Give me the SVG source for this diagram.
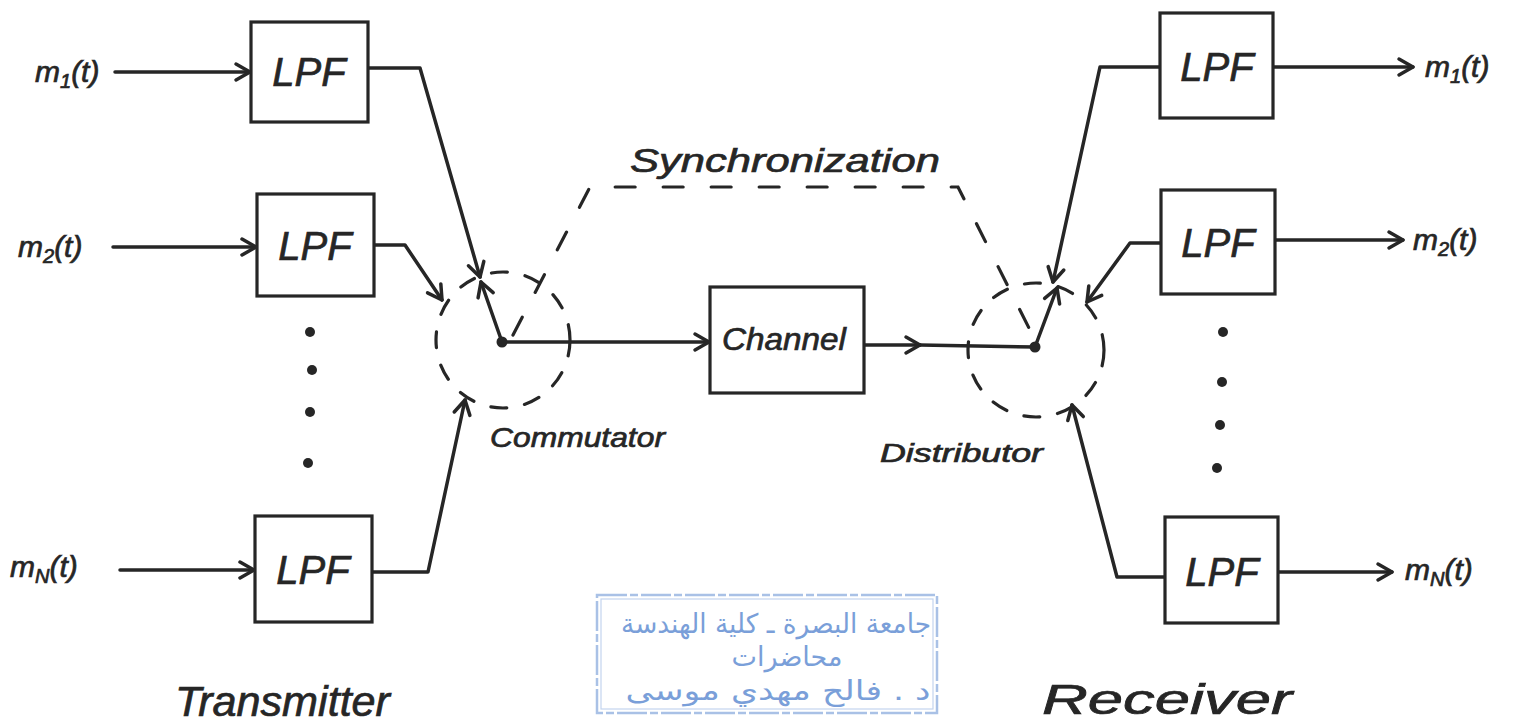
<svg xmlns="http://www.w3.org/2000/svg" width="1525" height="728" viewBox="0 0 1525 728">
  <style>
    .wire { fill: none; stroke: #262626; stroke-width: 3.5; stroke-linecap: round; stroke-linejoin: round; }
    .box { fill: #ffffff; stroke: #262626; stroke-width: 3.2; }
    .dash { fill: none; stroke: #262626; stroke-width: 3.2; stroke-linecap: round; }
    .hand { font-family: "Liberation Sans", "DejaVu Sans", sans-serif; font-style: italic; fill: #262626; stroke: #262626; stroke-width: 0.7; }
    .blk { font-size: 40px; text-anchor: middle; }
    .sig { font-size: 30px; }
    .dot { fill: #262626; }
    .stamp { font-family: "DejaVu Sans", "Noto Sans", sans-serif; fill: #7a9fd9; text-anchor: middle; }
  </style>
  <defs>
    <marker id="arr" markerUnits="userSpaceOnUse" markerWidth="22" markerHeight="22" refX="18" refY="11" orient="auto">
      <path d="M4,3 L18,11 L4,19" fill="none" stroke="#262626" stroke-width="3.5" stroke-linecap="round" stroke-linejoin="round"/>
    </marker>
  </defs>
  <rect width="1525" height="728" fill="#ffffff"/>

  <!-- connectors -->
  <g id="connectors">
    <!-- transmitter inputs -->
    <path class="wire" d="M115,72 L250,72" marker-end="url(#arr)"/>
    <path class="wire" d="M113,247 L256,247" marker-end="url(#arr)"/>
    <path class="wire" d="M120,570 L254,570" marker-end="url(#arr)"/>
    <!-- filters to commutator -->
    <path class="wire" d="M368,68 L420,68 L480,277" marker-end="url(#arr)"/>
    <path class="wire" d="M374,245 L405,245 L442,300" marker-end="url(#arr)"/>
    <path class="wire" d="M372,572 L428,572 L465,400" marker-end="url(#arr)"/>
    <!-- commutator arm and channel link -->
    <path class="wire" d="M502,342 L481,282" marker-end="url(#arr)"/>
    <path class="wire" d="M502,342 L709,342" marker-end="url(#arr)"/>
    <path class="wire" d="M864,345 L920,345" marker-end="url(#arr)"/>
    <path class="wire" d="M920,345 L1035,347"/>
    <!-- distributor arm -->
    <path class="wire" d="M1035,347 L1057,288" marker-end="url(#arr)"/>
    <!-- distributor to receiver filters -->
    <path class="wire" d="M1160,67 L1100,67 L1053,282" marker-end="url(#arr)"/>
    <path class="wire" d="M1161,243 L1130,243 L1087,302" marker-end="url(#arr)"/>
    <path class="wire" d="M1165,577 L1117,577 L1072,405" marker-end="url(#arr)"/>
    <!-- receiver outputs -->
    <path class="wire" d="M1273,67 L1413,67" marker-end="url(#arr)"/>
    <path class="wire" d="M1275,240 L1403,240" marker-end="url(#arr)"/>
    <path class="wire" d="M1278,572 L1392,572" marker-end="url(#arr)"/>
    <!-- synchronization link -->
    <path class="dash" d="M513,335 L590,187 L958,187 L1035,340" stroke-dasharray="20 28"/>
  </g>

  <!-- transmitter side -->
  <g id="in-m1">
    <text class="hand sig" x="35" y="82">m<tspan font-size="20" dy="6">1</tspan><tspan dy="-6">(t)</tspan></text>
  </g>
  <g id="in-m2">
    <text class="hand sig" x="18" y="257">m<tspan font-size="20" dy="6">2</tspan><tspan dy="-6">(t)</tspan></text>
  </g>
  <g id="in-mN">
    <text class="hand sig" x="10" y="577">m<tspan font-size="20" dy="6">N</tspan><tspan dy="-6">(t)</tspan></text>
  </g>
  <g id="tx-lpf1">
    <rect class="box" x="251" y="22" width="117" height="100"/>
    <text class="hand blk" x="309" y="86">LPF</text>
  </g>
  <g id="tx-lpf2">
    <rect class="box" x="257" y="194" width="117" height="102"/>
    <text class="hand blk" x="315" y="260">LPF</text>
  </g>
  <g id="tx-lpfN">
    <rect class="box" x="255" y="516" width="117" height="106"/>
    <text class="hand blk" x="313" y="584">LPF</text>
  </g>
  <g id="tx-dots">
    <circle class="dot" cx="310" cy="332" r="5"/>
    <circle class="dot" cx="312" cy="370" r="5"/>
    <circle class="dot" cx="310" cy="412" r="5"/>
    <circle class="dot" cx="308" cy="463" r="5"/>
  </g>

  <!-- commutator -->
  <g id="commutator">
    <ellipse class="dash" cx="503" cy="340" rx="67" ry="68" stroke-dasharray="16 18"/>
    <circle class="dot" cx="502" cy="342" r="5.5"/>
    <text class="hand" x="490" y="447" font-size="28" textLength="175" lengthAdjust="spacingAndGlyphs">Commutator</text>
  </g>

  <!-- channel -->
  <g id="channel">
    <rect class="box" x="710" y="287" width="154" height="106"/>
    <text class="hand" x="784" y="350" font-size="32" text-anchor="middle" textLength="124" lengthAdjust="spacingAndGlyphs">Channel</text>
  </g>

  <!-- synchronization label -->
  <g id="sync">
    <text class="hand" x="630" y="172" font-size="34" textLength="310" lengthAdjust="spacingAndGlyphs">Synchronization</text>
  </g>

  <!-- distributor -->
  <g id="distributor">
    <ellipse class="dash" cx="1036" cy="350" rx="68" ry="67" stroke-dasharray="16 18"/>
    <circle class="dot" cx="1035" cy="347" r="5.5"/>
    <text class="hand" x="880" y="462" font-size="26" textLength="163" lengthAdjust="spacingAndGlyphs">Distributor</text>
  </g>

  <!-- receiver side -->
  <g id="rx-lpf1">
    <rect class="box" x="1160" y="13" width="113" height="105"/>
    <text class="hand blk" x="1217" y="81">LPF</text>
  </g>
  <g id="rx-lpf2">
    <rect class="box" x="1161" y="190" width="114" height="104"/>
    <text class="hand blk" x="1218" y="257">LPF</text>
  </g>
  <g id="rx-lpfN">
    <rect class="box" x="1165" y="517" width="113" height="106"/>
    <text class="hand blk" x="1222" y="586">LPF</text>
  </g>
  <g id="rx-dots">
    <circle class="dot" cx="1223" cy="332" r="5"/>
    <circle class="dot" cx="1222" cy="382" r="5"/>
    <circle class="dot" cx="1220" cy="425" r="5"/>
    <circle class="dot" cx="1217" cy="468" r="5"/>
  </g>
  <g id="out-m1">
    <text class="hand sig" x="1425" y="77">m<tspan font-size="20" dy="6">1</tspan><tspan dy="-6">(t)</tspan></text>
  </g>
  <g id="out-m2">
    <text class="hand sig" x="1413" y="250">m<tspan font-size="20" dy="6">2</tspan><tspan dy="-6">(t)</tspan></text>
  </g>
  <g id="out-mN">
    <text class="hand sig" x="1405" y="580">m<tspan font-size="20" dy="6">N</tspan><tspan dy="-6">(t)</tspan></text>
  </g>

  <!-- section titles -->
  <g id="title-tx">
    <text class="hand" x="175" y="716" font-size="42" textLength="215" lengthAdjust="spacingAndGlyphs">Transmitter</text>
  </g>
  <g id="title-rx">
    <text class="hand" x="1042" y="714" font-size="42" textLength="250" lengthAdjust="spacingAndGlyphs">Receiver</text>
  </g>

  <!-- ink stamp -->
  <g id="stamp">
    <rect x="597" y="595" width="340" height="118" fill="none" stroke="#a9c1e6" stroke-width="2.5" stroke-dasharray="30 3 8 3"/>
    <rect x="601" y="599" width="332" height="110" fill="none" stroke="#c3d4ee" stroke-width="1.2"/>
    <text class="stamp" x="776" y="633" font-size="27" direction="rtl" textLength="310" lengthAdjust="spacingAndGlyphs">جامعة البصرة ـ كلية الهندسة</text>
    <text class="stamp" x="787" y="666" font-size="27" direction="rtl">محاضرات</text>
    <text class="stamp" x="778" y="700" font-size="27" direction="rtl" textLength="305" lengthAdjust="spacingAndGlyphs">د . فالح مهدي موسى</text>
  </g>
</svg>
